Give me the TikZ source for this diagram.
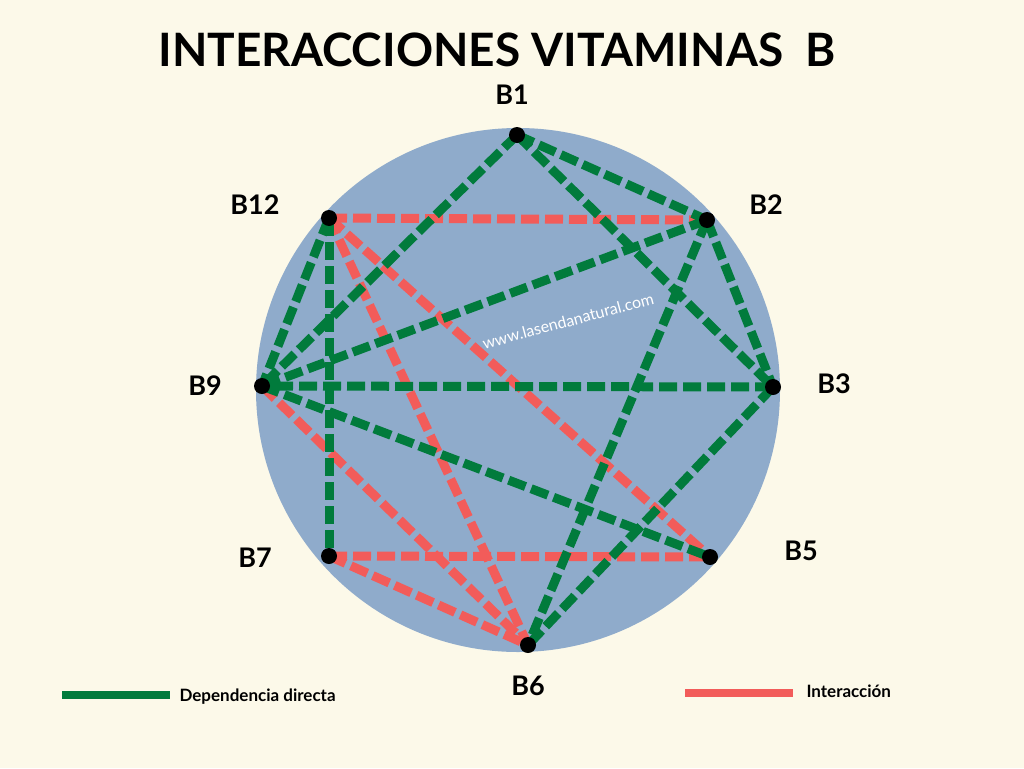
\documentclass[tikz,border=0pt]{standalone}
\usepackage{fontspec}
\setmainfont{Lato}
\usepackage{tikz}
\definecolor{cream}{HTML}{FCF9E9}
\definecolor{disc}{HTML}{8FABCB}
\definecolor{dgreen}{HTML}{017B3C}
\definecolor{dred}{HTML}{F25C5A}
\tikzset{
  dep/.style={draw=dgreen, line width=9pt, dash pattern=on 18pt off 6pt},
  inter/.style={draw=dred, line width=9pt, dash pattern=on 18pt off 6pt},
  vit/.style={circle, fill=black, inner sep=0pt, minimum size=16pt},
  lbl/.style={font=\bfseries\fontsize{27}{31}\selectfont}
}
\begin{document}
\begin{tikzpicture}[x=1pt, y=-1pt]
    \useasboundingbox[fill=cream] (0,0) rectangle (1024,768);
    \fill[disc] (518,390) circle (262);

    % Vitamins
    \coordinate (b1)  at (517,135);
    \coordinate (b2)  at (707,220);
    \coordinate (b3)  at (773,387);
    \coordinate (b5)  at (710,557);
    \coordinate (b6)  at (528,645);
    \coordinate (b7)  at (329,556);
    \coordinate (b9)  at (262,386);
    \coordinate (b12) at (329,218);

    % Interactions
    \draw [inter] (b12) -- (b2);
    \draw [inter] (b12) -- (b5);
    \draw [inter] (b12) -- (b6);
    \draw [inter] (b9) -- (b6);
    \draw [inter] (b7) -- (b5);
    \draw [inter] (b7) -- (b6);

    % Direct dependences
    \draw [dep] (b1) -- (b2);
    \draw [dep] (b1) -- (b3);
    \draw [dep] (b1) -- (b9);
    \draw [dep] (b2) -- (b3);
    \draw [dep] (b2) -- (b9);
    \draw [dep] (b2) -- (b6);
    \draw [dep] (b3) -- (b9);
    \draw [dep] (b3) -- (b6);
    \draw [dep] (b12) -- (b9);
    \draw [dep] (b12) -- (b7);
    \draw [dep] (b9) -- (b5);

    \foreach \v in {b1,b2,b3,b5,b6,b7,b9,b12}
        \node [vit] (n\v) at (\v) {};

    % Labels
    \node [lbl] (l1)  at (512,95)  {B1};
    \node [lbl] (l2)  at (766,205) {B2};
    \node [lbl] (l3)  at (834,384) {B3};
    \node [lbl] (l5)  at (801,551) {B5};
    \node [lbl] (l6)  at (528,686) {B6};
    \node [lbl] (l7)  at (255,558) {B7};
    \node [lbl] (l9)  at (205,386) {B9};
    \node [lbl] (l12) at (255,205) {B12};

    \node [font=\bfseries\fontsize{46}{50}\selectfont] (title) at (497,50) {INTERACCIONES VITAMINAS\ \ B};
    \node [white, rotate=15, font=\fontsize{16}{18}\selectfont] (web) at (568,321) {www.lasendanatural.com};

    % Legend
    \coordinate (g1) at (62,695);
    \coordinate (g2) at (170,695);
    \draw [draw=dgreen, line width=8pt] (g1) -- (g2);
    \node [anchor=west, font=\bfseries\fontsize{17}{20}\selectfont] (tdep) at (176,697) {Dependencia directa};
    \coordinate (r1) at (685,693);
    \coordinate (r2) at (793,693);
    \draw [draw=dred, line width=8pt] (r1) -- (r2);
    \node [anchor=west, font=\bfseries\fontsize{17}{20}\selectfont] (tint) at (803,691) {Interacción};
\end{tikzpicture}
\end{document}
